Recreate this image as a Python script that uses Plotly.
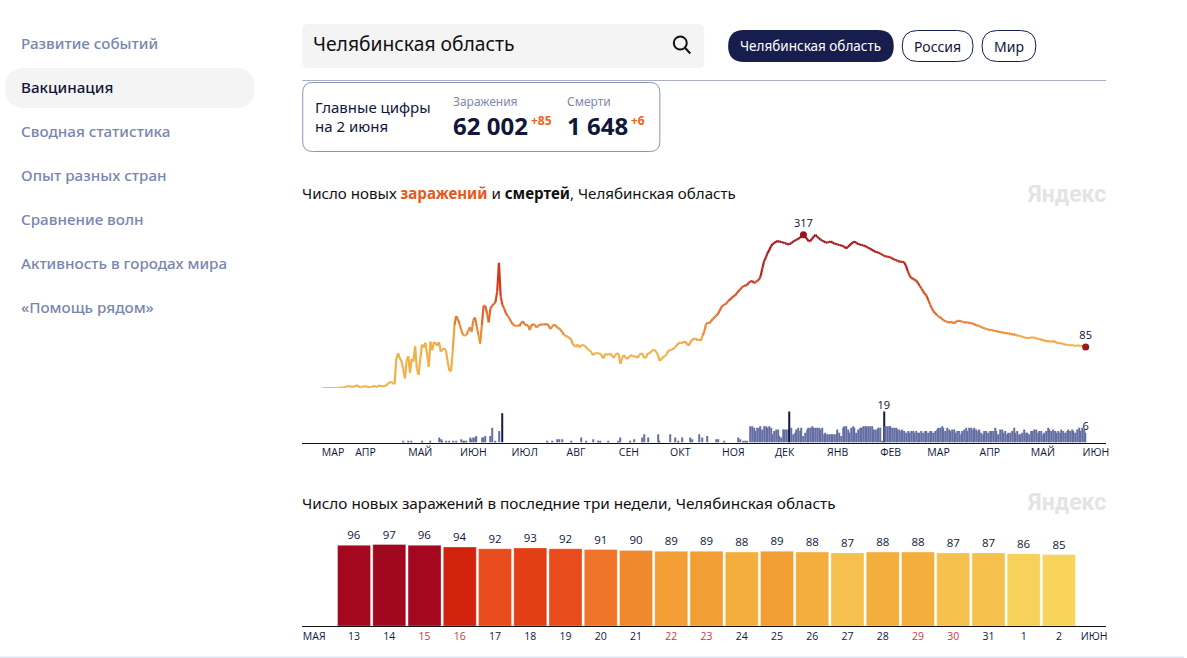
import pandas as pd
import plotly.graph_objects as go

W, H = 1187, 658
END_DAY = "2021-06-02"
INK = "#11163a"

# ---------- data: new infections per day
case_values = [
    0,0,0,0,0,0,0,0,0,0,1,1,0,2,3,4,3,3,2,4,
    6,2,3,2,3,4,2,2,1,2,5,2,3,5,4,4,4,5,9,11,
    13,10,8,60,72,62,56,40,20,55,66,32,60,55,86,40,27,60,90,84,
    94,70,44,96,78,95,92,88,95,75,80,82,78,55,36,35,78,130,149,142,
    132,120,110,108,110,118,126,116,140,146,128,110,92,130,170,170,155,136,165,170,
    174,178,200,259,190,172,165,155,150,145,138,132,130,128,130,128,135,138,132,130,
    130,120,130,132,131,125,129,131,132,131,132,132,130,122,126,131,130,125,124,120,
    116,110,108,106,104,102,92,88,85,90,84,88,89,88,84,80,78,74,68,71,
    73,72,71,68,61,70,70,68,71,68,62,68,72,70,50,62,68,63,60,64,
    67,68,64,66,62,68,72,70,62,63,72,71,76,78,79,74,68,56,60,64,
    66,70,77,78,80,81,85,88,93,94,93,95,96,90,88,95,100,102,102,99,
    100,98,108,116,132,135,134,138,143,146,150,153,160,167,171,173,175,180,183,186,
    190,191,196,200,204,208,211,212,213,218,220,222,217,219,222,224,232,248,262,270,
    279,285,293,298,300,303,304,303,302,301,300,299,297,298,300,303,305,307,309,311,
    315,317,313,309,304,304,309,313,317,313,310,307,305,303,301,301,302,303,301,299,
    298,297,296,295,294,292,289,292,295,299,301,303,300,298,297,296,295,294,292,290,
    288,286,284,282,281,280,278,276,274,272,272,271,270,268,266,265,263,262,261,261,
    260,252,242,233,228,226,224,222,217,211,206,200,195,191,182,173,165,159,155,151,
    148,146,143,140,138,137,135,137,136,134,136,139,139,138,137,136,136,135,135,134,
    133,132,130,129,128,126,125,123,122,121,120,120,119,118,118,116,116,115,114,114,
    113,113,112,111,111,110,109,108,107,106,105,104,103,104,104,105,104,103,102,101,
    100,99,98,97,97,96,
    96,97,96,94,92,93,92,91,90,89,89,88,89,88,87,88,88,87,87,86,85,
]

# ---------- data: deaths per day
early_death_days = [47,50,52,58,63,68,69,70,72,74,76,78,81,82,83,84,86,87,88,89,90,93,94,95,98,99,
                    101,103,105,131,134,137,138,140,145,151,154,158,161,162,167,173,174,180,182,
                    187,188,190,196,197,203,206,208,210,215,216,220,222,225,230,231,235,243,244,246,247,248]
early_death_values = [1,1,1,1,1,3,2,1,1,1,1,1,2,1,1,1,3,2,3,3,4,3,3,4,4,9,
                      1,7,18,1,1,2,2,2,1,3,1,2,1,1,1,1,3,1,2,
                      3,5,3,5,1,5,3,1,3,3,2,5,3,4,2,2,1,3,2,1,1,1]
winter_deaths = [
    10,10,9,7,9,9,10,8,10,10, 9,10,9,5,7,8,8,4,3,8, 8,8,8,19,
    9,5,6,8,9,7,9,4,6,8, 9,9,10,9,9,9,9,8,9,5, 6,5,5,5,5,5,5,
    8,6,4,9,10,10,8,6,9,10, 9,6,8,9,9,10,10,10,10,10, 10,8,8,8,9,9,1, 19,
]
spring_deaths = [
    10,10,10,10,9,9,9,8,8,7, 8,7,6,7,6,7,7,6,7,6, 6,7,6,7,7,6,7,7,6,7,
    8,9,9,10,9,7,9,8,7,8, 8,6,7,7,5,7,8,9,7,9, 9,8,9,8,7,8,6,5,7,7,
    6,7,7,7,9,7,5,8,8,6, 7,5,6,6,7,9,6,7,5,5, 6,8,6,6,5,7,7,8,8,6,
    7,7,5,6,7,9,8,7,8,7, 6,7,6,8,7,6,7,8,7,8, 7,6,8,9,7,9,8,6,
]

month_tick_dates = ["2020-03-19","2020-04-07","2020-05-09","2020-06-09","2020-07-09","2020-08-08",
                    "2020-09-08","2020-10-08","2020-11-08","2020-12-08","2021-01-08","2021-02-08",
                    "2021-03-08","2021-04-07","2021-05-08","2021-06-08"]
month_tick_labels = ["МАР","АПР","МАЙ","ИЮН","ИЮЛ","АВГ","СЕН","ОКТ","НОЯ","ДЕК","ЯНВ","ФЕВ",
                     "МАР","АПР","МАЙ","ИЮН"]

# ---------- data: last three weeks
recent_days = ["13","14","15","16","17","18","19","20","21","22","23","24","25","26","27","28","29","30","31","1","2"]
recent_values = [96,97,96,94,92,93,92,91,90,89,89,88,89,88,87,88,88,87,87,86,85]
weekend_days = ["15","16","22","23","29","30"]

nav_items = ["Развитие событий","Вакцинация","Сводная статистика","Опыт разных стран",
             "Сравнение волн","Активность в городах мира","«Помощь рядом»"]

# ---------- helpers (pixels -> paper)
def px(x): return x / W
def py(y): return 1 - y / H

def rrect(x0, y0, x1, y1, r, fill="rgba(0,0,0,0)", line=None, lw=1):
    p = (f"M{px(x0+r)},{py(y0)} L{px(x1-r)},{py(y0)} Q{px(x1)},{py(y0)} {px(x1)},{py(y0+r)} "
         f"L{px(x1)},{py(y1-r)} Q{px(x1)},{py(y1)} {px(x1-r)},{py(y1)} "
         f"L{px(x0+r)},{py(y1)} Q{px(x0)},{py(y1)} {px(x0)},{py(y1-r)} "
         f"L{px(x0)},{py(y0+r)} Q{px(x0)},{py(y0)} {px(x0+r)},{py(y0)} Z")
    return dict(type="path", xref="paper", yref="paper", path=p, fillcolor=fill,
                line=dict(color=line or "rgba(0,0,0,0)", width=lw if line else 0), layer="below")

annotations = []
def label(x, y, text, size=14, color=INK, anchor="left", family="Open Sans", weight=None):
    font = dict(size=size, color=color, family=family)
    if weight:
        font["weight"] = weight
    annotations.append(dict(xref="paper", yref="paper", x=px(x), y=py(y), text=text, showarrow=False,
                            xanchor=anchor, yanchor="middle", font=font, borderpad=0, borderwidth=0, align="left"))

fig = go.Figure()

# ---------- chart 1: infections line, coloured by level
dates = pd.date_range(end=END_DAY, periods=len(case_values))
bins = [(90,"#f0b04a"),(110,"#efa440"),(130,"#ea8c34"),(150,"#e6792d"),(180,"#e16429"),
        (210,"#d94e20"),(240,"#cf3b1b"),(280,"#b82719"),(10000,"#a5161d")]
seg = {c: ([], []) for _, c in bins}
for i in range(len(case_values) - 1):
    mean = (case_values[i] + case_values[i + 1]) / 2
    colour = next(c for t, c in bins if mean < t)
    xs, ys = seg[colour]
    xs += [dates[i], dates[i + 1], None]
    ys += [case_values[i], case_values[i + 1], None]
for _, c in bins:
    fig.add_trace(go.Scatter(x=seg[c][0], y=seg[c][1], mode="lines", connectgaps=False,
                             line=dict(color=c, width=2.2), xaxis="x", yaxis="y", hoverinfo="skip"))

peak = case_values.index(max(case_values))
last = len(case_values) - 1
fig.add_trace(go.Scatter(x=[dates[peak], dates[last]], y=[case_values[peak], case_values[last]],
                         mode="markers+text", text=[str(case_values[peak]), str(case_values[last])],
                         textposition="top center", textfont=dict(size=11, color="#0d1030", family="Open Sans"),
                         marker=dict(color="#9c1420", size=7), cliponaxis=False, xaxis="x", yaxis="y", hoverinfo="skip"))

# ---------- chart 1: deaths bars
death_by_date = {}
start = dates[0]
for d, v in zip(early_death_days, early_death_values):
    death_by_date[start + pd.Timedelta(days=d)] = v
spring_dates = pd.date_range(end=END_DAY, periods=len(spring_deaths))
winter_dates = pd.date_range(end=spring_dates[0] - pd.Timedelta(days=1), periods=len(winter_deaths))
death_by_date.update(zip(winter_dates, winter_deaths))
death_by_date.update(zip(spring_dates, spring_deaths))
dx = list(death_by_date.keys())
dy = list(death_by_date.values())
max_death = max(dy)
fig.add_trace(go.Bar(x=dx, y=dy, width=0.62 * 86400000,
                     marker=dict(color=["#141a45" if v >= 18 else "#646ea3" for v in dy], line=dict(width=0)),
                     xaxis="x", yaxis="y2", hoverinfo="skip"))
peak_death = [d for d, v in death_by_date.items() if v == max_death][-1]
fig.add_trace(go.Scatter(x=[peak_death, spring_dates[-1]], y=[max_death, spring_deaths[-1]],
                         mode="text", text=[str(max_death), str(spring_deaths[-1])], textposition="top center",
                         textfont=dict(size=11, color="#0d1030", family="Open Sans"), cliponaxis=False,
                         xaxis="x", yaxis="y2", hoverinfo="skip"))

# ---------- chart 2
idx = list(range(len(recent_days)))
scale = [[0.0,"#f8d45c"],[0.083,"#f7d25a"],[0.167,"#f5c04e"],[0.25,"#f4ae3d"],[0.333,"#f39e34"],
         [0.417,"#f0882d"],[0.5,"#ee7429"],[0.583,"#e94c1c"],[0.667,"#e33f17"],[0.75,"#d83010"],
         [0.75,"#d0220d"],[0.9,"#a5081f"],[1.0,"#a0081f"]]
fig.add_trace(go.Bar(x=idx, y=recent_values, width=33 / 35.3,
                     marker=dict(color=recent_values, colorscale=scale, cmin=85, cmax=97,
                                 line=dict(color="rgba(255,255,255,0.3)", width=1)),
                     text=[str(v) for v in recent_values], textposition="outside",
                     textfont=dict(size=11.5, color=INK, family="Open Sans"), cliponaxis=False,
                     xaxis="x2", yaxis="y3", hoverinfo="skip"))

tick_x = [-1.13] + idx + [21.0]
tick_t = ["МАЯ"] + [f'<span style="color:#d8323c">{d}</span>' if d in weekend_days else d for d in recent_days] + ["ИЮН"]

# ---------- layout
shapes = [
    rrect(303, 24, 706, 68, 6, fill="#f4f4f4"),
    rrect(5, 68, 255, 108, 20, fill="#f4f4f4"),
    rrect(730, 30, 896, 62, 16, fill="#171e4d"),
    rrect(904.5, 30.5, 975.5, 61.5, 15.5, line="#171e4d"),
    rrect(984.5, 30.5, 1038.5, 61.5, 15.5, line="#171e4d"),
    rrect(303.5, 82.5, 661.5, 151.5, 10, line="#8b93b8"),
    dict(type="line", xref="paper", yref="paper", x0=px(303), x1=px(1109), y0=py(80.5), y1=py(80.5),
         line=dict(color="#a9aec6", width=1)),
    dict(type="circle", xref="paper", yref="paper", x0=px(675.5), x1=px(688.5), y0=py(36.5), y1=py(49.5),
         line=dict(color="#111111", width=2)),
    dict(type="line", xref="paper", yref="paper", x0=px(687), x1=px(692), y0=py(48), y1=py(53.5),
         line=dict(color="#111111", width=2)),
    dict(type="rect", xref="paper", yref="paper", x0=0, x1=1, y0=0, y1=py(656.6),
         fillcolor="#dde3ee", line=dict(width=0)),
]

for i, name in enumerate(nav_items):
    label(21, 42.6 + 44 * i, name, size=15.2, color=INK if i == 1 else "#7a86ad", weight=500, family="Noto Sans")

label(314, 44, "Челябинская область", size=19.3, color="#111111", family="Noto Sans")
label(813, 46, "Челябинская область", size=13.5, color="#ffffff", anchor="center", family="Noto Sans")
label(940, 46, "Россия", size=14, anchor="center", family="Noto Sans")
label(1011.5, 46, "Мир", size=14, anchor="center", family="Noto Sans")

label(316, 107, "Главные цифры", size=15, family="Noto Sans")
label(316, 126, "на 2 июня", size=15, family="Noto Sans")
label(454, 101.5, "Заражения", size=12, color="#7f88ad", family="Noto Sans")
label(568, 101.5, "Смерти", size=12, color="#7f88ad", family="Noto Sans")
label(454, 126, "62 002", size=24, weight=700, family="Noto Sans")
label(568, 126, "1 648", size=24, weight=700, family="Noto Sans")
label(532, 121, "+85", size=12, color="#f2631c", weight=700, family="Noto Sans")
label(633, 121, "+6", size=12, color="#f2631c", weight=700, family="Noto Sans")

label(303, 193, 'Число новых <span style="color:#e8581c"><b>заражений</b></span> и <b>смертей</b>, Челябинская область',
      size=15.1, color="#111111", family="Noto Sans")
label(303, 503, "Число новых заражений в последние три недели, Челябинская область", size=15.3, color="#111111", family="Noto Sans")
label(1109, 194, "Яндекс", size=23, color="#e4e4e4", anchor="right", weight=700, family="Roboto")
label(1109, 503, "Яндекс", size=23, color="#e4e4e4", anchor="right", weight=700, family="Roboto")

X_DOMAIN = [px(303), px(1109)]
fig.update_layout(
    width=W, height=H, autosize=False, margin=dict(l=0, r=0, t=0, b=0),
    paper_bgcolor="white", plot_bgcolor="white", showlegend=False, hovermode=False, barmode="overlay",
    shapes=shapes, annotations=annotations,
    xaxis=dict(domain=X_DOMAIN, range=["2020-03-01", "2021-06-14"], type="date", anchor="y2",
               tickmode="array", tickvals=month_tick_dates, ticktext=month_tick_labels, ticks="",
               showgrid=False, zeroline=False, showline=True, linecolor="#111111", linewidth=1,
               tickangle=0, tickfont=dict(size=10.5, color=INK, family="Open Sans"), fixedrange=True),
    yaxis=dict(domain=[py(388), py(215)], range=[0, 358], visible=False, fixedrange=True),
    yaxis2=dict(domain=[py(442.5), py(409.9)], range=[0, 20], visible=False, fixedrange=True),
    xaxis2=dict(domain=X_DOMAIN, range=[-1.47, 21.34], anchor="y3", tickmode="array",
                tickvals=tick_x, ticktext=tick_t, ticks="", showgrid=False, zeroline=False, showline=True,
                linecolor="#111111", linewidth=1, tickangle=0,
                tickfont=dict(size=10.5, color=INK, family="Open Sans"), fixedrange=True),
    yaxis3=dict(domain=[py(626), py(542)], range=[0, 100], visible=False, fixedrange=True),
)

fig.write_html("out.html", config={"displayModeBar": False},
               post_script="document.body.style.margin='0';document.body.style.overflow='hidden';")
